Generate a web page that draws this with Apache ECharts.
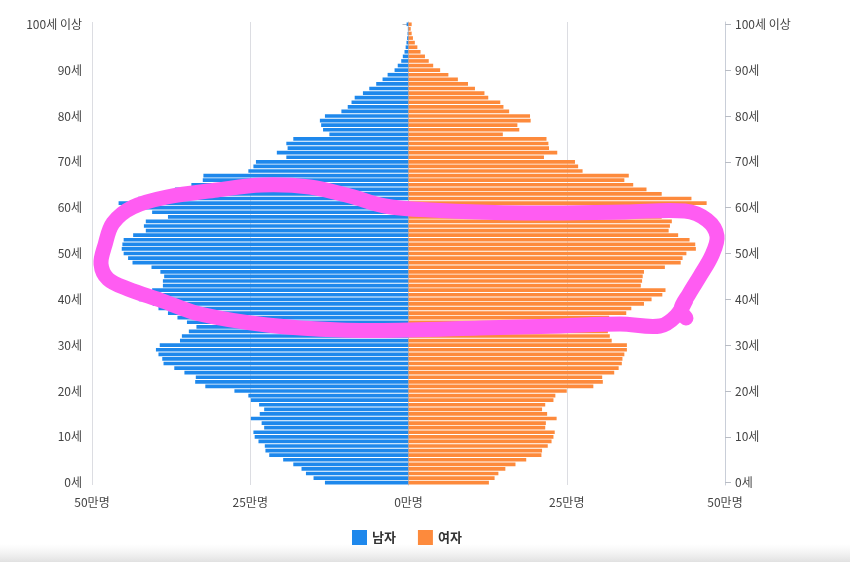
<!DOCTYPE html>
<html>
<head>
<meta charset="utf-8">
<script src="https://cdn.jsdelivr.net/npm/echarts@6/dist/echarts.min.js"></script>
<style>
html,body{margin:0;padding:0;background:#fff;}
#c{width:850px;height:562px;}
</style>
</head>
<body>
<div id="c"></div>
<script>
// Population by single year of age, 0..100+ (unit: 만명)
const ages = [];
for (let a = 0; a <= 100; a++) ages.push(a);
const categories = ages.map(a => a === 100 ? '100세 이상' : a + '세');

const male = [
 13.2,15.0,16.2,16.9,18.2,19.8,22.0,22.6,22.7,23.7,
 24.3,24.5,22.8,23.2,24.9,23.5,22.8,23.6,24.9,25.3,
 27.5,32.1,33.7,33.6,35.4,37.0,38.7,38.9,39.5,39.9,
 39.3,36.1,35.8,34.7,33.5,35.0,36.5,38.0,39.5,40.4,
 42.6,43.0,40.5,38.8,38.8,38.6,39.2,40.6,43.6,44.3,
 45.0,45.3,45.2,45.0,43.5,41.5,41.8,41.5,38.0,40.5,
 42.0,45.8,42.7,39.0,36.9,34.3,32.5,32.4,25.3,24.5,
 24.1,19.3,20.8,19.1,19.3,18.2,12.5,13.5,13.8,14.0,
 13.2,10.6,9.6,9.0,8.5,7.2,6.2,5.1,4.1,3.3,
 2.2,1.7,1.15,0.9,0.63,0.45,0.32,0.22,0.15,0.1,
 0.3
];
const female = [
 12.7,13.6,14.2,15.3,16.9,18.6,21.0,21.1,22.0,22.6,
 22.9,23.1,21.6,21.7,23.4,21.9,21.1,21.6,22.9,23.2,
 25.0,29.2,30.7,30.6,32.5,33.2,33.7,33.8,34.1,34.5,
 34.5,32.1,31.8,31.5,31.2,31.4,31.7,34.4,35.2,37.2,
 38.4,40.1,40.6,36.7,36.9,37.0,37.2,40.5,43.0,43.3,
 43.9,45.4,45.3,44.4,42.6,41.1,41.3,41.6,40.0,42.0,
 43.5,47.1,44.7,40.0,37.6,35.5,34.1,34.8,27.5,26.8,
 26.3,21.4,23.5,22.2,22.1,21.8,14.9,17.5,17.2,19.3,
 19.2,15.9,15.0,14.5,12.6,12.0,10.5,9.4,7.8,6.3,
 5.0,3.9,3.2,2.6,1.9,1.4,1.0,0.7,0.5,0.35,
 0.5
];
const seriesNames = ['남자', '여자'];

const font = '"Noto Sans CJK KR", "Noto Sans", sans-serif';
const chart = echarts.init(document.getElementById('c'), null, {renderer: 'canvas'});

const yAxisCommon = {
  type: 'category',
  data: categories,
  boundaryGap: true,
  axisLine: {show: true, lineStyle: {color: '#c9ced8', width: 1}},
  axisTick: {show: true, alignWithLabel: true, interval: 9, length: 6, lineStyle: {color: '#b8bcc4'}},
  axisLabel: {interval: 9, color: '#444', fontSize: 12, fontFamily: font, margin: 10},
  splitLine: {show: false}
};

chart.setOption({
  animation: false,
  backgroundColor: '#fff',
  textStyle: {fontFamily: font},
  grid: {left: 92, right: 125, top: 22, bottom: 77, containLabel: false},
  xAxis: {
    type: 'value',
    min: -50, max: 50, interval: 25,
    axisLine: {show: false},
    axisTick: {show: false},
    axisLabel: {
      color: '#444', fontSize: 12, fontFamily: font, margin: 11,
      formatter: v => Math.abs(v) + '만명'
    },
    splitLine: {show: true, lineStyle: {color: '#dcdde2', width: 1}}
  },
  yAxis: [
    Object.assign({}, yAxisCommon, {position: 'left'}),
    Object.assign({}, yAxisCommon, {position: 'right'})
  ],
  legend: {
    bottom: 12, left: 347,
    itemWidth: 15, itemHeight: 15, itemGap: 22,
    icon: 'rect',
    textStyle: {color: '#333', fontSize: 13, fontWeight: 'bold', fontFamily: font},
    data: seriesNames
  },
  series: [
    {
      name: seriesNames[0], type: 'bar', yAxisIndex: 0,
      data: male.map(v => -v),
      barCategoryGap: '20%', barGap: '-100%',
      itemStyle: {color: '#1e88ec'}
    },
    {
      name: seriesNames[1], type: 'bar', yAxisIndex: 0,
      data: female,
      barCategoryGap: '20%', barGap: '-100%',
      itemStyle: {color: '#fd8a3c'}
    }
  ],
  graphic: [
    {
      type: 'rect', left: 0, top: 544, silent: true, z: 0,
      shape: {width: 850, height: 18},
      style: {fill: new echarts.graphic.LinearGradient(0, 0, 0, 1, [
        {offset: 0, color: 'rgba(235,235,235,0)'},
        {offset: 1, color: 'rgba(225,225,225,1)'}
      ])}
    },
    {
      type: 'polyline', silent: true, z: 100,
      shape: {
        points: [
          [686,300],[676,316],[660,326],[620,324],[560,326],[480,328],[409,330],
          [340,330],[267,325],[200,314],[160,300],[128,289],[108,279],[101,264],
          [105,245],[113,223],[133,207],[167,197],[217,190],[262,185],[310,187],
          [350,196],[385,206],[430,210],[525,213],[625,212],[685,211],[707,220],
          [717,236],[712,255],[700,276],[689,294],[681,309],[686,318]
        ],
        smooth: 0.35
      },
      style: {stroke: '#ff5cf2', lineWidth: 15, fill: null, lineCap: 'round', lineJoin: 'round'}
    }
  ]
});
</script>
</body>
</html>
